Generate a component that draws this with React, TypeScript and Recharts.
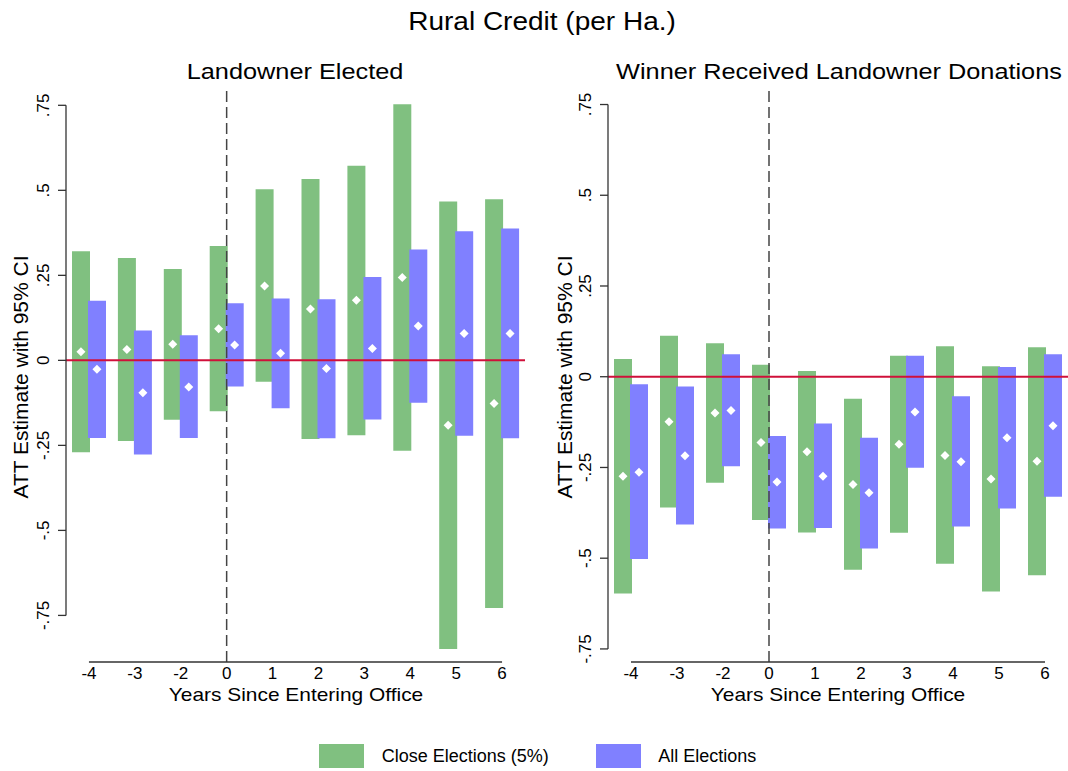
import React from 'react';
import { ComposedChart, Bar, Line, XAxis, YAxis, ReferenceLine } from 'recharts';

const periods = ['-4', '-3', '-2', '0', '1', '2', '3', '4', '5', '6'];
const yTicks = [-0.75, -0.5, -0.25, 0, 0.25, 0.5, 0.75];
const yTickLabels = ['-.75', '-.5', '-.25', '0', '.25', '.5', '.75'];

// Landowner Elected
const electedCloseLow = [-0.270, -0.237, -0.175, -0.150, -0.063, -0.231, -0.220, -0.266, -0.849, -0.728];
const electedCloseHigh = [0.321, 0.301, 0.269, 0.336, 0.503, 0.533, 0.572, 0.753, 0.467, 0.474];
const electedClosePt = [0.025, 0.032, 0.047, 0.093, 0.219, 0.151, 0.177, 0.244, -0.191, -0.127];
const electedAllLow = [-0.228, -0.277, -0.228, -0.077, -0.141, -0.229, -0.174, -0.125, -0.222, -0.229];
const electedAllHigh = [0.175, 0.088, 0.074, 0.168, 0.182, 0.180, 0.245, 0.326, 0.380, 0.388];
const electedAllPt = [-0.026, -0.095, -0.078, 0.045, 0.021, -0.024, 0.035, 0.101, 0.079, 0.079];

// Winner Received Landowner Donations
const donorCloseLow = [-0.597, -0.360, -0.292, -0.395, -0.429, -0.532, -0.430, -0.515, -0.592, -0.547];
const donorCloseHigh = [0.049, 0.113, 0.092, 0.033, 0.016, -0.061, 0.058, 0.084, 0.029, 0.081];
const donorClosePt = [-0.274, -0.124, -0.100, -0.181, -0.207, -0.297, -0.186, -0.217, -0.282, -0.233];
const donorAllLow = [-0.502, -0.407, -0.247, -0.418, -0.417, -0.473, -0.251, -0.413, -0.363, -0.331];
const donorAllHigh = [-0.021, -0.027, 0.062, -0.163, -0.129, -0.168, 0.058, -0.054, 0.027, 0.062];
const donorAllPt = [-0.263, -0.218, -0.093, -0.290, -0.274, -0.320, -0.097, -0.234, -0.168, -0.135];

const GREEN = '#80c080';
const BLUE = '#8080ff';
const RED = '#d0103a';
const AXIS = '#333';
const FONT = '"Liberation Sans", Arial, Helvetica, sans-serif';

const buildRows = (cl: number[], ch: number[], cp: number[], al: number[], ah: number[], ap: number[]) =>
  periods.map((p, i) => ({
    period: p,
    close: [cl[i], ch[i]],
    all: [al[i], ah[i]],
    closePt: cp[i],
    allPt: ap[i],
  }));

const electedRows = buildRows(electedCloseLow, electedCloseHigh, electedClosePt, electedAllLow, electedAllHigh, electedAllPt);
const donorRows = buildRows(donorCloseLow, donorCloseHigh, donorClosePt, donorAllLow, donorAllHigh, donorAllPt);

const RotatedTick = (props: any) => {
  const { x, y, payload } = props;
  const i = yTicks.indexOf(payload.value);
  return (
    <text x={x} y={y} transform={`rotate(-90 ${x} ${y})`} textAnchor="middle" fontSize={17} fill="#000">
      {i >= 0 ? yTickLabels[i] : payload.value}
    </text>
  );
};

const diamond = (dx: number) => (props: any) => {
  const { cx, cy, index } = props;
  if (cx == null || cy == null) return <g key={index} />;
  const x = cx + dx;
  return <path key={index} d={`M${x},${cy - 4.5} L${x + 4.5},${cy} L${x},${cy + 4.5} L${x - 4.5},${cy} Z`} fill="#fff" />;
};

interface PanelProps {
  rows: any[];
  domain: [number, number];
  width: number;
  marginLeft: number;
  marginRight: number;
}

const Panel = ({ rows, domain, width, marginLeft, marginRight }: PanelProps) => (
  <ComposedChart
    width={width}
    height={700}
    data={rows}
    margin={{ top: 90, right: marginRight, left: marginLeft, bottom: 18 }}
    barGap={-2}
  >
    <XAxis
      dataKey="period"
      type="category"
      axisLine={false}
      tickLine={false}
      tickSize={0}
      tickMargin={5}
      interval={0}
      height={20}
      tick={{ fontSize: 17, fill: '#000' }}
    />
    <YAxis
      type="number"
      domain={domain}
      ticks={yTicks}
      axisLine={false}
      tickLine={{ stroke: AXIS, strokeWidth: 1.3 }}
      tickSize={8}
      tickMargin={9}
      width={60}
      tick={<RotatedTick />}
    />
    <ReferenceLine y={0} stroke={RED} strokeWidth={2} />
    <ReferenceLine x="0" stroke="#444" strokeWidth={1.5} strokeDasharray="11 5" />
    <ReferenceLine
      segment={[{ x: '-4', y: -0.75 }, { x: '-4', y: 0.75 }]}
      position="start"
      stroke={AXIS}
      strokeWidth={1.3}
    />
    <ReferenceLine
      segment={[{ x: '-4', y: domain[0] }, { x: '6', y: domain[0] }]}
      stroke={AXIS}
      strokeWidth={1.3}
    />
    <Bar dataKey="close" fill={GREEN} barSize={18} isAnimationActive={false} />
    <Bar dataKey="all" fill={BLUE} barSize={18} isAnimationActive={false} />
    <Line dataKey="closePt" stroke="none" dot={diamond(-8)} activeDot={false} isAnimationActive={false} />
    <Line dataKey="allPt" stroke="none" dot={diamond(8)} activeDot={false} isAnimationActive={false} />
  </ComposedChart>
);

const Txt = ({ x, capTop, size, sx = 1, children }: any) => (
  <div
    style={{
      position: 'absolute',
      left: x,
      top: capTop - 0.13 * size,
      transform: `translateX(-50%) scaleX(${sx})`,
      fontSize: size,
      lineHeight: `${size}px`,
      whiteSpace: 'nowrap',
    }}
  >
    {children}
  </div>
);

const VTxt = ({ cx, cy, size, children }: any) => (
  <div
    style={{
      position: 'absolute',
      left: cx,
      top: cy,
      transform: 'translate(-50%, -50%) rotate(-90deg)',
      fontSize: size,
      lineHeight: `${size}px`,
      whiteSpace: 'nowrap',
    }}
  >
    {children}
  </div>
);

const Swatch = ({ x, color }: any) => (
  <div style={{ position: 'absolute', left: x, top: 744, width: 45, height: 24, background: color }} />
);

export default function App() {
  return (
    <div
      style={{
        position: 'absolute',
        left: 0,
        top: 0,
        width: 1068,
        height: 771,
        overflow: 'hidden',
        background: '#fff',
        fontFamily: FONT,
        color: '#000',
      }}
    >
      <div style={{ position: 'absolute', left: 0, top: 0 }}>
        <Panel rows={electedRows} domain={[-0.887, 0.795]} width={540} marginLeft={6} marginRight={15} />
      </div>
      <div style={{ position: 'absolute', left: 540, top: 0 }}>
        <Panel rows={donorRows} domain={[-0.786, 0.79]} width={528} marginLeft={8} marginRight={0} />
      </div>

      <Txt x={542} capTop={12.7} size={25} sx={1.12}>Rural Credit (per Ha.)</Txt>
      <Txt x={295} capTop={64} size={22} sx={1.15}>Landowner Elected</Txt>
      <Txt x={838.5} capTop={64} size={22} sx={1.15}>Winner Received Landowner Donations</Txt>
      <Txt x={296} capTop={687.7} size={19} sx={1.1}>Years Since Entering Office</Txt>
      <Txt x={838.4} capTop={687.7} size={19} sx={1.1}>Years Since Entering Office</Txt>
      <VTxt cx={20} cy={376.5} size={21}>ATT Estimate with 95% CI</VTxt>
      <VTxt cx={563.7} cy={376.5} size={21}>ATT Estimate with 95% CI</VTxt>

      <Swatch x={319} color={GREEN} />
      <div style={{ position: 'absolute', left: 381.7, top: 749.5 - 0.13 * 18, fontSize: 18, lineHeight: '18px', whiteSpace: 'nowrap' }}>
        Close Elections (5%)
      </div>
      <Swatch x={596} color={BLUE} />
      <div style={{ position: 'absolute', left: 658.3, top: 749.5 - 0.13 * 18, fontSize: 18, lineHeight: '18px', whiteSpace: 'nowrap' }}>
        All Elections
      </div>
    </div>
  );
}
